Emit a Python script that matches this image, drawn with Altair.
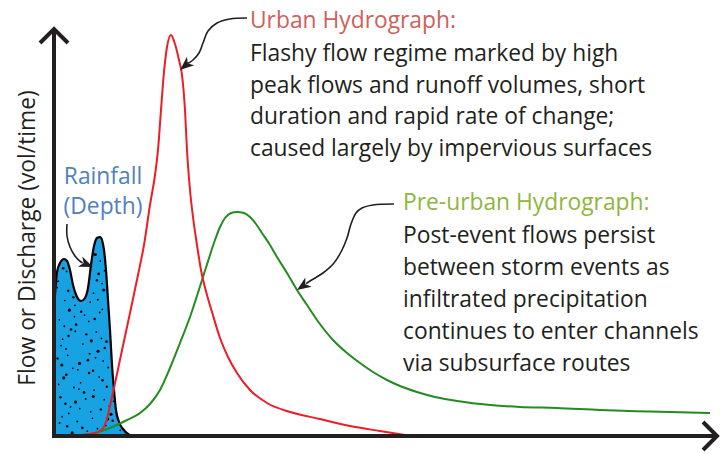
import altair as alt
import pandas as pd
import numpy as np

# ---------------- data (time units along x, flow units along y) ----------------
urban_t = [16, 24, 36, 46, 52, 58, 67, 76, 84, 90, 96, 101, 104, 107, 110, 113, 117, 121,
           125, 128, 131, 133, 136, 139, 143, 147, 153, 158, 166, 174, 183, 196, 213, 236,
           266, 296, 326, 351]
urban_q = [0, 1, 2, 5, 14, 39, 81, 123, 161, 191, 231, 261, 286, 326, 364, 389, 401, 392,
           376, 361, 326, 286, 246, 219, 191, 166, 141, 124, 98, 79, 63, 46, 33, 24,
           17, 10, 5, 1]

pre_t = [21, 41, 56, 71, 86, 96, 106, 116, 126, 136, 149, 156, 161, 166, 171, 177, 183, 190,
         196, 202, 208, 216, 223, 233, 243, 253, 263, 279, 293, 306, 319, 333, 346, 363,
         381, 403, 436, 466, 503, 546, 596, 656]
pre_q = [0, 3, 8, 15, 23, 32, 46, 68, 93, 119, 159, 181, 196, 209, 218, 223, 224, 223,
         219, 212, 203, 191, 179, 163, 146, 131, 116, 96, 83, 73, 64, 56, 50, 44,
         39, 35, 31, 29, 28, 26, 24.5, 23]

rain_t = [1, 3, 6, 10, 13, 16, 19, 23, 27, 31, 34, 37, 40, 43, 46, 48, 50, 52, 54, 56,
          58, 60, 62, 65, 69, 74, 78]
rain_q = [141, 164, 173, 177, 175, 166, 151, 139, 135, 138, 148, 171, 190, 198, 199, 196,
          186, 166, 136, 106, 71, 46, 26, 14, 7, 2, 0]

# annotation leader curves (last point = arrow tip)
urban_arrow_t = [193, 176, 163, 154, 149, 145, 139, 133, 126]
urban_arrow_q = [418, 417, 413, 405, 393, 383, 376, 372, 366]
pre_arrow_t = [340, 319, 308, 302, 297, 293, 288, 280, 269, 256, 243]
pre_arrow_q = [232, 231, 228, 223, 212, 198, 186, 173, 163, 155, 146]
rain_arrow_t = [13, 13, 16, 21, 27, 39]
rain_arrow_q = [212, 200, 189, 180, 174, 169]

# axis arrows
yaxis_t = [0, 0]
yaxis_q = [-2, 407]
ychev_t = [-14, 0, 14]
ychev_q = [393, 407, 393]
xaxis_t = [-2, 663]
xaxis_q = [0, 0]
xchev_t = [649, 663, 649]
xchev_q = [14, 0, -14]

y_title = "Flow or Discharge (vol/time)"
urban_title = "Urban Hydrograph:"
urban_body = ["Flashy flow regime marked by high",
              "peak flows and runoff volumes, short",
              "duration and rapid rate of change;",
              "caused largely by impervious surfaces"]
pre_title = "Pre-urban Hydrograph:"
pre_body = ["Post-event flows persist",
            "between storm events as",
            "infiltrated precipitation",
            "continues to enter channels",
            "via subsurface routes"]
rain_label = ["Rainfall", "(Depth)"]

# ---------------- styling ----------------
FONT = "Open Sans"
FS = 22.8
INK = "#231f20"
RED = "#ee1c25"
GREEN = "#238b1f"
BLUE_FILL = "#17a2e4"
URBAN_C = "#cf605c"
PRE_C = "#8fb63e"
RAIN_C = "#4f81bd"

XS = alt.Scale(domain=[-46, 666], nice=False, zero=False)
YS = alt.Scale(domain=[-16, 428], nice=False, zero=False)
XE = alt.X("t:Q", scale=XS, axis=None)
YE = alt.Y("q:Q", scale=YS, axis=None)


def xy(order=True):
    enc = dict(x=XE, y=YE)
    if order:
        enc["order"] = alt.Order("i:Q")
    return enc


def frame(ts, qs):
    return pd.DataFrame({"t": ts, "q": qs, "i": range(len(ts))})


# rainfall fill + outline
rain_df = frame(rain_t, rain_q)
rain_area = alt.Chart(rain_df).mark_area(
    color=BLUE_FILL, interpolate="monotone", opacity=1, fillOpacity=1, strokeWidth=0
).encode(x=XE, y=alt.Y("q:Q", scale=YS, axis=None, stack=None))
rain_line = alt.Chart(rain_df).mark_line(color="black", strokeWidth=2.2, interpolate="monotone").encode(**xy())

# stipple texture inside rainfall (deterministic low-discrepancy layout)
def halton(i, b):
    f, r = 1.0, 0.0
    while i > 0:
        f /= b
        r += f * (i % b)
        i //= b
    return r

dots = []
for k in range(1, 150):
    tt = 3 + halton(k, 2) * 72
    qq = halton(k, 3) * 196
    top = np.interp(tt, rain_t, rain_q)
    if qq < top - 5 and qq > 3:
        dots.append((tt, qq, [3, 6, 3, 10, 4, 3, 7][k % 7]))
dots_df = pd.DataFrame(dots, columns=["t", "q", "s"])
dots_layer = alt.Chart(dots_df).mark_circle(color="black", opacity=1, strokeWidth=0).encode(
    x=XE, y=YE, size=alt.Size("s:Q", scale=None, legend=None))

# hydrographs
pre_df = frame(pre_t, pre_q)
pre_line = alt.Chart(pre_df).mark_line(color=GREEN, strokeWidth=2, interpolate="monotone").encode(**xy())
urb_df = frame(urban_t, urban_q)
urb_line = alt.Chart(urb_df).mark_line(color=RED, strokeWidth=2, interpolate="monotone").encode(**xy())

# axes
def poly(ts, qs, w):
    df = frame(ts, qs)
    return alt.Chart(df).mark_line(color=INK, strokeWidth=w, strokeJoin="miter", strokeCap="butt").encode(**xy())

axes = [poly(yaxis_t, yaxis_q, 4), poly(ychev_t, ychev_q, 4),
        poly(xaxis_t, xaxis_q, 4), poly(xchev_t, xchev_q, 4)]

# leader arrows
ARROW_LEN = 14
arrow_layers = []
heads = []
for ts, qs in [(urban_arrow_t, urban_arrow_q), (pre_arrow_t, pre_arrow_q), (rain_arrow_t, rain_arrow_q)]:
    dx = ts[-1] - ts[-2]
    dy = qs[-1] - qs[-2]
    n = (dx * dx + dy * dy) ** 0.5
    ux, uy = dx / n, dy / n
    body_t = ts[:-1] + [ts[-1] - ux * ARROW_LEN * 0.8]
    body_q = qs[:-1] + [qs[-1] - uy * ARROW_LEN * 0.8]
    df = frame(body_t, body_q)
    arrow_layers.append(alt.Chart(df).mark_line(color=INK, strokeWidth=1.6, interpolate="catmull-rom").encode(**xy()))
    ang = (np.degrees(np.arctan2(-dy, dx)) + 360) % 360
    heads.append({"t": ts[-1] - ux * ARROW_LEN / 2, "q": qs[-1] - uy * ARROW_LEN / 2, "a": float(ang)})

heads_df = pd.DataFrame(heads)
head_layer = alt.Chart(heads_df).mark_point(
    shape="M1,0L-1,-0.8L-0.45,0L-1,0.8Z", filled=True, color=INK, opacity=1, size=ARROW_LEN ** 2, strokeWidth=0
).encode(x=XE, y=YE, angle=alt.Angle("a:Q", scale=None))

# texts
def txt(s, t, q, color, align="left", baseline="alphabetic", lh=31.5, angle=0, size=FS):
    df = pd.DataFrame({"t": [t], "q": [q], "s": ["\n".join(s) if isinstance(s, list) else s]})
    kw = dict(font=FONT, fontSize=size, color=color, align=align, baseline=baseline,
              lineBreak="\n", lineHeight=lh)
    if angle:
        kw["angle"] = angle
    return alt.Chart(df).mark_text(**kw).encode(x=XE, y=YE, text="s:N")

texts = [
    txt(urban_title, 196, 408, URBAN_C),
    txt(urban_body, 196, 375, INK, lh=31.5),
    txt(pre_title, 349, 226, PRE_C),
    txt(pre_body, 349, 193, INK, lh=32),
    txt(rain_label, 49, 252, RAIN_C, align="center", lh=30),
    txt(y_title, -26, 198, INK, align="center", baseline="middle", angle=270),
]

chart = alt.layer(rain_area, dots_layer, rain_line, pre_line, urb_line, *axes, *arrow_layers,
                  head_layer, *texts).properties(
    width=712, height=444, padding=0, autosize=alt.AutoSizeParams(type="none")
).configure_view(stroke=None)

chart.save("out.html", embed_options={"renderer": "svg", "actions": False})
